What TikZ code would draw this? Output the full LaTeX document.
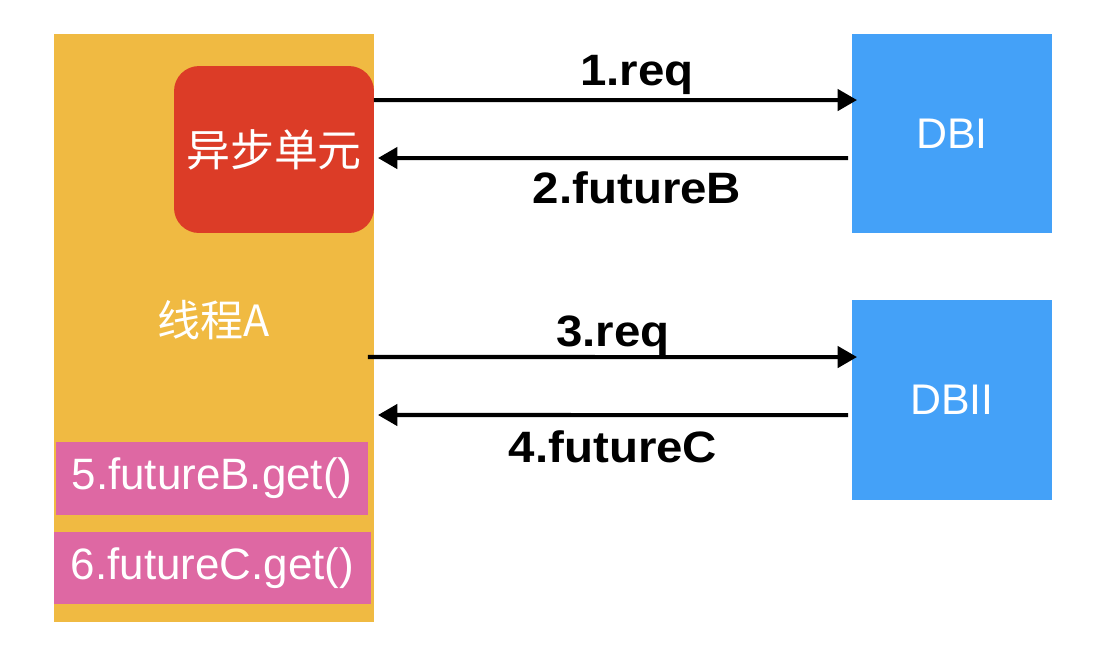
\documentclass[tikz,border=0pt]{standalone}
\usepackage{fontspec}
\setmainfont{Liberation Sans}
\newfontfamily\cjk{Noto Sans CJK SC}
\newfontfamily\lblfont[FakeStretch=1.08]{Liberation Sans}
\usetikzlibrary{arrows.meta,calc}
\definecolor{threadorange}{HTML}{F0BA42}
\definecolor{asyncred}{HTML}{DC3C27}
\definecolor{getpink}{HTML}{DE68A3}
\definecolor{dbblue}{HTML}{44A1F8}

\begin{document}
\begin{tikzpicture}[
    x=0.02cm, y=-0.02cm,
    block/.style={inner sep=0pt, outer sep=0pt, text=white, align=center},
    getbox/.style={block, fill=getpink, font=\fontsize{25}{25}\selectfont},
    dbbox/.style={block, fill=dbblue, minimum width=4cm, font=\fontsize{24.4}{24.4}\selectfont},
    msg/.style={font=\lblfont\bfseries\fontsize{25}{25}\selectfont, anchor=base, inner sep=0pt},
    arr/.style={line width=2.3pt, -{Triangle[length=11pt,width=12pt]}}
]
    \useasboundingbox (0,0) rectangle (1118,650);

    \node[block, fill=threadorange, minimum width=6.4cm, minimum height=11.76cm, font=\cjk\fontsize{24.5}{24.5}\selectfont, text depth=0.4cm] (thread) at (214,328) {线程A};
    \node[block, fill=asyncred, rounded corners=0.5cm, minimum width=4cm, minimum height=3.34cm, font=\cjk\fontsize{25}{25}\selectfont] (async) at (274,149.5) {异步单元};
    \node[getbox, minimum width=6.24cm, minimum height=1.46cm] (getB) at (212,478.5) {5.futureB.get()};
    \node[getbox, minimum width=6.34cm, minimum height=1.44cm] (getC) at (212.5,568) {6.futureC.get()};

    \node[dbbox, minimum height=3.98cm] (dbone) at (952,133.5) {DBI};
    \node[dbbox, minimum height=4cm] (dbtwo) at (952,400) {DBII};

    \draw[arr] ($(async.north east)+(0,34)$) -- ($(dbone.north west)+(5,66)$);
    \draw[arr] ($(dbone.north west)+(-4,124)$) -- ($(async.north east)+(4,92)$);
    \draw[arr] ($(thread.east)+(-6,29)$) -- ($(dbtwo.north west)+(5,57)$);
    \draw[arr] ($(dbtwo.north west)+(-4,115)$) -- ($(thread.east)+(4,87)$);

    \node[msg] (req1) at (637,85) {1.req};
    \node[msg] (futB) at (637,203) {2.futureB};
    \node[msg] (req3) at (613,346) {3.req};
    \node[msg] (futC) at (613,462) {4.futureC};
\end{tikzpicture}
\end{document}
